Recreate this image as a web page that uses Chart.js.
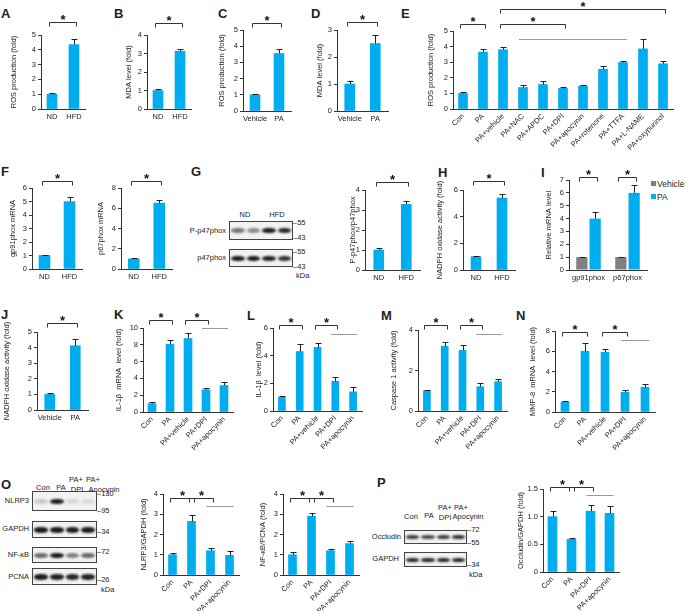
<!DOCTYPE html>
<html>
<head>
<meta charset="utf-8">
<script src="https://cdn.jsdelivr.net/npm/chart.js@4.4.1/dist/chart.umd.min.js"></script>
<style>
  body { margin: 0; background: #fff; }
  #fig { position: relative; width: 685px; height: 611px; overflow: hidden;
         font-family: "Liberation Sans", Arial, sans-serif; color: #222; }
  #fig canvas { position: absolute; }
  .lt { position: absolute; font-weight: bold; font-size: 13px; line-height: 13px; }
  .t { position: absolute; font-size: 7.5px; line-height: 8px; white-space: nowrap; }
  .blot { position: absolute; border: 1px solid #444; background: #f2f2f2; box-sizing: border-box; overflow: hidden; }
  .band { position: absolute; border-radius: 45%; filter: blur(0.8px); }
  .sw { position: absolute; width: 5px; height: 5px; }
</style>
</head>
<body>
<div id="fig"></div>
<script>
// ---- data ----
const ndHfd = ['ND', 'HFD'];
const vehPa = ['Vehicle', 'PA'];
const eLabels = ['Con', 'PA', 'PA+vehicle', 'PA+NAC', 'PA+APDC', 'PA+DPI', 'PA+apocynin',
                 'PA+rotenone', 'PA+TTFA', 'PA+L-NAME', 'PA+oxypurinol'];
const inhibLabels = ['Con', 'PA', 'PA+vehicle', 'PA+DPI', 'PA+apocynin'];
const shortLabels = ['Con', 'PA', 'PA+DPI', 'PA+apocynin'];
const iGenes = ['gp91phox', 'p67phox'];
const iSeries = ['Vehicle', 'PA'];

const aRos = [1.0, 4.35], aRosErr = [0.07, 0.35];
const bMda = [1.0, 3.12], bMdaErr = [0.07, 0.15];
const cRos = [1.0, 3.55], cRosErr = [0.03, 0.25];
const dMda = [1.0, 2.5], dMdaErr = [0.1, 0.32];
const eRos = [1.0, 3.65, 3.8, 1.38, 1.57, 1.32, 1.47, 2.55, 2.98, 3.85, 2.9];
const eRosErr = [0.12, 0.22, 0.15, 0.13, 0.22, 0.1, 0.1, 0.2, 0.07, 0.65, 0.15];
const fGp91 = [1.0, 5.0], fGp91Err = [0.03, 0.35];
const fP67 = [1.0, 6.5], fP67Err = [0.05, 0.3];
const gRatio = [1.0, 3.28], gRatioErr = [0.12, 0.15];
const hNox = [1.0, 5.4], hNoxErr = [0.06, 0.3];
const iVehicle = [1.0, 1.0], iVehicleErr = [0.05, 0.03];
const iPa = [4.0, 6.0], iPaErr = [0.5, 0.6];
const jNox = [1.0, 4.12], jNoxErr = [0.1, 0.4];
const kIl1b = [1.0, 8.05, 8.75, 2.65, 3.15], kIl1bErr = [0.25, 0.5, 0.7, 0.15, 0.45];
const lIl1b = [1.0, 4.3, 4.6, 2.15, 1.38], lIl1bErr = [0.12, 0.55, 0.35, 0.28, 0.32];
const mCasp = [1.0, 3.2, 3.0, 1.2, 1.45], mCaspErr = [0.05, 0.22, 0.28, 0.18, 0.12];
const nMmp8 = [1.0, 6.0, 5.9, 1.95, 2.45], nMmp8Err = [0.12, 0.8, 0.3, 0.2, 0.28];
const oNlrp3 = [1.0, 2.65, 1.2, 0.97], oNlrp3Err = [0.08, 0.3, 0.12, 0.2];
const oNfkb = [1.0, 2.9, 1.2, 1.55], oNfkbErr = [0.12, 0.15, 0.1, 0.12];
const pOcc = [1.0, 0.59, 1.1, 1.06], pOccErr = [0.1, 0.03, 0.11, 0.13];

// ---- layout (page pixels) ----
const LAY = {
  A:  { title: 13,  ax: 41,  right: 85,  top: 35,  zero: 109, pt: 30, xh: 16, bw: 10 },
  B:  { title: 128, ax: 147, right: 191, top: 35,  zero: 109, pt: 30, xh: 16, bw: 10 },
  C:  { title: 221, ax: 243, right: 291, top: 30,  zero: 111, pt: 26, xh: 16, bw: 10 },
  D:  { title: 319, ax: 337, right: 388, top: 30,  zero: 111, pt: 26, xh: 16, bw: 10 },
  E:  { title: 430, ax: 453, right: 673, top: 31,  zero: 109, pt: 30, xh: 52, bw: 9, rot: 45 },
  F1: { title: 12,  ax: 32,  right: 82,  top: 188, zero: 269, pt: 18, xh: 16, bw: 11 },
  F2: { title: 100, ax: 121, right: 172, top: 188, zero: 269, pt: 18, xh: 16, bw: 11 },
  G:  { title: 352, ax: 365, right: 420, top: 190, zero: 270, pt: 20, xh: 16, bw: 10 },
  H:  { title: 439, ax: 463, right: 515, top: 190, zero: 270, pt: 20, xh: 16, bw: 10 },
  I:  { title: 548, ax: 569, right: 647, top: 180, zero: 270, pt: 12, xh: 16 },
  J:  { title: 6,   ax: 37,  right: 88,  top: 332, zero: 410, pt: 18, xh: 16, bw: 10 },
  K:  { title: 118, ax: 143, right: 233, top: 328, zero: 412, pt: 16, xh: 44, bw: 8, rot: 45 },
  L:  { title: 258, ax: 273, right: 362, top: 328, zero: 411, pt: 16, xh: 44, bw: 7, rot: 45 },
  M:  { title: 393, ax: 418, right: 507, top: 330, zero: 411, pt: 16, xh: 44, bw: 7, rot: 45 },
  N:  { title: 532, ax: 555, right: 655, top: 331, zero: 412, pt: 16, xh: 44, bw: 8, rot: 45 },
  O1: { title: 143, ax: 163, right: 239, top: 494, zero: 575, pt: 14, xh: 36, bw: 8, rot: 45 },
  O2: { title: 262, ax: 283, right: 359, top: 494, zero: 575, pt: 14, xh: 36, bw: 8, rot: 45 },
  P:  { title: 520, ax: 543, right: 619, top: 489, zero: 572, pt: 14, xh: 40, bw: 9, rot: 45 }
};

const BLUE = '#00AEEF', GREY = '#808080', INK = '#333';
const fig = document.getElementById('fig');

Chart.defaults.font.family = '"Liberation Sans", Arial, sans-serif';
Chart.defaults.font.size = 7.5;
Chart.defaults.color = '#222';
Chart.defaults.animation = false;
Chart.defaults.plugins.legend.display = false;
Chart.defaults.plugins.tooltip.enabled = false;

// error bars + significance brackets
const annot = {
  id: 'annot',
  afterDatasetsDraw(chart, args, opts) {
    const ctx = chart.ctx, y = chart.scales.y;
    ctx.save();
    ctx.lineWidth = 1;
    ctx.strokeStyle = '#222';
    chart.data.datasets.forEach((ds, di) => {
      chart.getDatasetMeta(di).data.forEach((bar, i) => {
        const cx = Math.round(bar.x) + 0.5;
        const yt = Math.round(y.getPixelForValue(ds.data[i] + ds.err[i])) + 0.5;
        ctx.beginPath();
        ctx.moveTo(cx, y.getPixelForValue(ds.data[i]));
        ctx.lineTo(cx, yt);
        ctx.moveTo(cx - 3, yt);
        ctx.lineTo(cx + 3, yt);
        ctx.stroke();
      });
    });
    const barX = r => Array.isArray(r) ? chart.getDatasetMeta(r[0]).data[r[1]].x
                                       : chart.getDatasetMeta(0).data[r].x;
    (opts.brackets || []).forEach(([a, b, lv]) => {
      const x1 = Math.round(barX(a) - 3) + 0.5, x2 = Math.round(barX(b) + 2) + 0.5;
      const yy = Math.round(y.getPixelForValue(lv)) + 0.5;
      ctx.strokeStyle = INK;
      ctx.beginPath();
      ctx.moveTo(x1, yy + 4); ctx.lineTo(x1, yy); ctx.lineTo(x2, yy); ctx.lineTo(x2, yy + 4);
      ctx.stroke();
      ctx.fillStyle = '#111';
      ctx.font = 'bold 13px "Liberation Sans", Arial';
      ctx.textAlign = 'center';
      ctx.textBaseline = 'alphabetic';
      ctx.fillText('*', (x1 + x2) / 2, yy + 1);
    });
    (opts.lines || []).forEach(([a, b, lv]) => {
      const yy = Math.round(y.getPixelForValue(lv)) + 0.5;
      ctx.strokeStyle = '#999';
      ctx.beginPath();
      ctx.moveTo(barX(a) - 4, yy); ctx.lineTo(barX(b) + 4, yy);
      ctx.stroke();
    });
    ctx.restore();
  }
};

function barChart(L, labels, sets, o) {
  const left = Math.round(L.title - 4.5), top = L.top - L.pt;
  const c = document.createElement('canvas');
  c.width = L.right + 3 - left;
  c.height = L.zero + L.xh - top;
  c.style.left = left + 'px';
  c.style.top = top + 'px';
  fig.appendChild(c);
  const rot = L.rot || 0;
  new Chart(c, {
    type: 'bar',
    data: {
      labels,
      datasets: sets.map(s => ({
        data: s.data, err: s.err, backgroundColor: s.color || BLUE,
        barThickness: L.bw, barPercentage: 0.85, categoryPercentage: 0.68
      }))
    },
    options: {
      responsive: false,
      layout: { padding: { left: 0, top: L.pt, right: 3, bottom: 0 } },
      scales: {
        x: {
          grid: { display: false, drawTicks: false },
          border: { color: INK },
          ticks: { padding: 3, autoSkip: false, minRotation: rot, maxRotation: rot },
          afterFit: s => { s.height = L.xh; }
        },
        y: {
          min: 0, max: o.max,
          ticks: { stepSize: o.step, padding: 2 },
          grid: { drawOnChartArea: false, tickLength: 3, color: INK },
          border: { color: INK },
          title: { display: true, text: o.title, padding: { top: 0, bottom: 0 } },
          afterFit: s => { s.width = L.ax - left; }
        }
      },
      plugins: { annot: { brackets: o.brackets, lines: o.lines } }
    },
    plugins: [annot]
  });
}

function txt(s, x, y, anchor, cls) {
  const d = document.createElement('div');
  d.className = cls || 't';
  d.textContent = s;
  d.style.left = x + 'px';
  d.style.top = y + 'px';
  const tx = anchor === 'r' ? '-100%' : anchor === 'l' ? '0' : '-50%';
  d.style.transform = 'translate(' + tx + ',-50%)';
  fig.appendChild(d);
  return d;
}

function letter(s, x, y) {
  const d = document.createElement('div');
  d.className = 'lt';
  d.textContent = s;
  d.style.left = x + 'px';
  d.style.top = y + 'px';
  fig.appendChild(d);
}

function blot(x, y, w, h, lanes, bh) {
  const b = document.createElement('div');
  b.className = 'blot';
  Object.assign(b.style, { left: x + 'px', top: y + 'px', width: w + 'px', height: h + 'px' });
  const lw = (w - 2) / lanes.length;
  lanes.forEach((a, i) => {
    const d = document.createElement('div');
    d.className = 'band';
    const hh = bh || 5;
    Object.assign(d.style, {
      left: (i * lw + 1) + 'px', width: (lw - 2) + 'px',
      top: ((h - 2) / 2 - hh / 2) + 'px', height: hh + 'px',
      background: 'rgba(15,15,15,' + a + ')'
    });
    b.appendChild(d);
  });
  fig.appendChild(b);
}

// ---- row 1 ----
letter('A', 1, 7); letter('B', 114, 7); letter('C', 218, 7); letter('D', 311, 7); letter('E', 401, 7);
barChart(LAY.A, ndHfd, [{ data: aRos, err: aRosErr }],
  { max: 5, step: 1, title: 'ROS production (fold)', brackets: [[0, 1, 5.85]] });
barChart(LAY.B, ndHfd, [{ data: bMda, err: bMdaErr }],
  { max: 4, step: 1, title: 'MDA level (fold)', brackets: [[0, 1, 4.65]] });
barChart(LAY.C, vehPa, [{ data: cRos, err: cRosErr }],
  { max: 5, step: 1, title: 'ROS production (fold)', brackets: [[0, 1, 5.45]] });
barChart(LAY.D, vehPa, [{ data: dMda, err: dMdaErr }],
  { max: 3, step: 1, title: 'MDA level (fold)', brackets: [[0, 1, 3.28]] });
barChart(LAY.E, eLabels, [{ data: eRos, err: eRosErr }],
  { max: 5, step: 1, title: 'ROS production (fold)',
    brackets: [[0, 1, 5.45], [2, 5, 5.42], [2, 10, 6.4]], lines: [[3, 8, 4.5]] });

// ---- row 2 ----
letter('F', 1, 165); letter('G', 191, 165); letter('H', 438, 166); letter('I', 541, 166);
barChart(LAY.F1, ndHfd, [{ data: fGp91, err: fGp91Err }],
  { max: 6, step: 1, title: 'gp91phox mRNA', brackets: [[0, 1, 6.55]] });
barChart(LAY.F2, ndHfd, [{ data: fP67, err: fP67Err }],
  { max: 8, step: 2, title: 'p67phox mRNA', brackets: [[0, 1, 8.7]] });
barChart(LAY.G, ndHfd, [{ data: gRatio, err: gRatioErr }],
  { max: 4, step: 1, title: 'P-p47phox/p47phox', brackets: [[0, 1, 4.4]] });
barChart(LAY.H, ndHfd, [{ data: hNox, err: hNoxErr }],
  { max: 6, step: 2, title: 'NADPH oxidase activity (fold)', brackets: [[0, 1, 6.7]] });
barChart(LAY.I, iGenes,
  [{ data: iVehicle, err: iVehicleErr, color: GREY }, { data: iPa, err: iPaErr, color: BLUE }],
  { max: 7, step: 1, title: 'Relative mRNA level',
    brackets: [[[0, 0], [1, 0], 7.2], [[0, 1], [1, 1], 7.2]] });
[GREY, BLUE].forEach((col, i) => {
  const s = document.createElement('div');
  s.className = 'sw';
  s.style.background = col;
  s.style.left = '651px';
  s.style.top = (181 + i * 13) + 'px';
  fig.appendChild(s);
  txt(iSeries[i], 657, 184 + i * 13, 'l').style.fontSize = '8.5px';
});

// G blot
txt('ND', 245, 215);
txt('HFD', 277, 215);
blot(229, 221, 64, 19, [0.55, 0.45, 0.95, 0.9], 5);
blot(229, 249, 64, 18, [0.95, 0.95, 0.92, 0.85], 5);
txt('P-p47phox', 226, 231, 'r');
txt('p47phox', 226, 258, 'r');
txt('–55', 293, 223, 'l'); txt('–43', 293, 238, 'l');
txt('–55', 293, 252, 'l'); txt('–43', 293, 267, 'l');
txt('kDa', 296, 276, 'l');

// ---- row 3 ----
letter('J', 1, 308); letter('K', 114, 308); letter('L', 247, 309); letter('M', 381, 309); letter('N', 516, 309);
barChart(LAY.J, vehPa, [{ data: jNox, err: jNoxErr }],
  { max: 5, step: 1, title: 'NADPH oxidase activity (fold)', brackets: [[0, 1, 5.58]] });
barChart(LAY.K, inhibLabels, [{ data: kIl1b, err: kIl1bErr }],
  { max: 10, step: 2, title: 'IL-1β  mRNA  level (fold)',
    brackets: [[0, 1, 10.9], [2, 3, 10.9]], lines: [[3, 4, 10.0]] });
barChart(LAY.L, inhibLabels, [{ data: lIl1b, err: lIl1bErr }],
  { max: 6, step: 2, title: 'IL-1β  level (fold)',
    brackets: [[0, 1, 6.25], [2, 3, 6.25]], lines: [[3, 4, 5.6]] });
barChart(LAY.M, inhibLabels, [{ data: mCasp, err: mCaspErr }],
  { max: 4, step: 2, title: 'Caspase 1 activity (fold)',
    brackets: [[0, 1, 4.25], [2, 3, 4.25]], lines: [[3, 4, 3.8]] });
barChart(LAY.N, inhibLabels, [{ data: nMmp8, err: nMmp8Err }],
  { max: 8, step: 2, title: 'MMP-8  mRNA  level (fold)',
    brackets: [[0, 1, 7.9], [2, 3, 7.9]], lines: [[3, 4, 7.1]] });

// ---- row 4 ----
letter('O', 1, 478); letter('P', 377, 476);
barChart(LAY.O1, shortLabels, [{ data: oNlrp3, err: oNlrp3Err }],
  { max: 4, step: 1, title: 'NLRP3/GAPDH (fold)',
    brackets: [[0, 1, 3.8], [1, 2, 3.8]], lines: [[2, 3, 3.4]] });
barChart(LAY.O2, shortLabels, [{ data: oNfkb, err: oNfkbErr }],
  { max: 4, step: 1, title: 'NF-κB/PCNA (fold)',
    brackets: [[0, 1, 3.8], [1, 2, 3.8]], lines: [[2, 3, 3.4]] });
barChart(LAY.P, shortLabels, [{ data: pOcc, err: pOccErr }],
  { max: 1.5, step: 0.5, title: 'Occludin/GAPDH (fold)',
    brackets: [[0, 1, 1.54], [1, 2, 1.54]], lines: [[2, 3, 1.39]] });

// O blot
txt('Con', 43, 488); txt('PA', 61, 488);
txt('PA+', 76, 480); txt('DPI', 77, 490);
txt('PA+', 93, 480); txt('Apocynin', 104, 490);
blot(32, 491, 65, 20, [0.18, 0.95, 0.12, 0.1], 5);
blot(32, 521, 65, 17, [0.95, 0.95, 0.95, 0.95], 6);
blot(32, 547, 65, 16, [0.6, 0.95, 0.5, 0.62], 5);
blot(32, 568, 65, 17, [0.95, 0.92, 0.9, 0.92], 6);
txt('NLRP3', 29, 501, 'r'); txt('GAPDH', 29, 529, 'r');
txt('NF-κB', 29, 555, 'r'); txt('PCNA', 29, 577, 'r');
txt('–130', 97, 494, 'l'); txt('–95', 97, 511, 'l');
txt('–34', 97, 532, 'l'); txt('–72', 97, 552, 'l');
txt('–26', 97, 580, 'l'); txt('kDa', 101, 590, 'l');

// P blot
txt('Con', 411, 517); txt('PA', 429, 516);
txt('PA+', 445, 508); txt('DPI', 445, 518);
txt('PA+', 461, 508); txt('Apocynin', 468, 517);
blot(404, 530, 63, 14, [0.8, 0.75, 0.8, 0.85], 4);
blot(404, 552, 63, 15, [0.9, 0.9, 0.9, 0.9], 4);
txt('Occludin', 401, 537, 'r'); txt('GAPDH', 399, 559, 'r');
txt('–72', 467, 530, 'l'); txt('–55', 467, 543, 'l');
txt('–34', 467, 565, 'l'); txt('kDa', 469, 575, 'l');
</script>
</body>
</html>
